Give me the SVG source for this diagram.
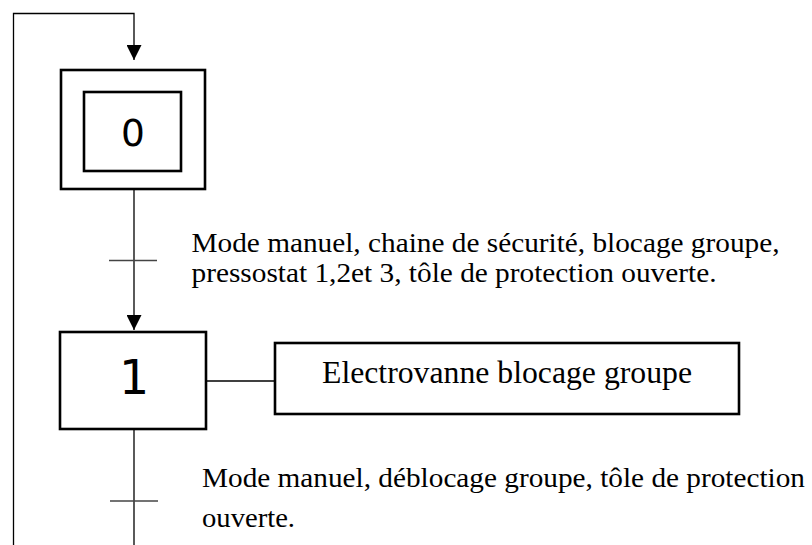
<svg xmlns="http://www.w3.org/2000/svg" width="812" height="545" viewBox="0 0 812 545">
  <style>
    .step { fill: #fff; stroke: #000; stroke-width: 2.6; }
    .link { fill: none; stroke: #000; stroke-width: 1.3; }
    .bar { fill: none; stroke: #444; stroke-width: 1.5; }
    .num { font-family: "DejaVu Sans", sans-serif; fill: #000; text-anchor: middle; }
    .cond { font-family: "Liberation Serif", "Times New Roman", serif; fill: #000; }
  </style>
  <defs>
    <marker id="arrow" viewBox="0 0 15 15" refX="15" refY="7.5" markerWidth="15" markerHeight="15" markerUnits="userSpaceOnUse" orient="auto">
      <path d="M0,0 L15,7.5 L0,15 Z" fill="#000"/>
    </marker>
  </defs>

  <!-- connectors -->
  <g id="connectors">
    <!-- return loop from the bottom back to the initial step -->
    <path class="link" d="M13.5,545 V13.5 H134 V60" marker-end="url(#arrow)"/>
    <!-- step 0 to step 1 -->
    <path class="link" d="M134,189 V330" marker-end="url(#arrow)"/>
    <!-- step 1 downward -->
    <path class="link" d="M134,429 V545"/>
    <!-- step 1 to its action -->
    <path class="link" d="M206,381 H275"/>
    <!-- transition bars -->
    <path class="bar" d="M109,260.5 H157"/>
    <path class="bar" d="M110,501 H158"/>
  </g>

  <!-- initial step 0 -->
  <g id="step0">
    <rect class="step" x="61" y="70" width="144" height="119"/>
    <rect class="step" x="84" y="92" width="97" height="79"/>
    <text class="num" x="133" y="145.5" font-size="37.5">0</text>
  </g>

  <!-- step 1 -->
  <g id="step1">
    <rect class="step" x="60" y="332" width="146" height="97"/>
    <text class="num" x="134" y="394" font-size="47.5">1</text>
  </g>

  <!-- action of step 1 -->
  <g id="action1">
    <rect class="step" x="275" y="343" width="464" height="71"/>
    <text class="cond" x="322" y="382.5" font-size="31" textLength="370" lengthAdjust="spacingAndGlyphs">Electrovanne blocage groupe</text>
  </g>

  <!-- transition 0 -> 1 receptivity -->
  <g id="trans1">
    <text class="cond" x="191.5" y="251.5" font-size="27" textLength="588" lengthAdjust="spacingAndGlyphs">Mode manuel, chaine de sécurité, blocage groupe,</text>
    <text class="cond" x="191.5" y="282" font-size="27" textLength="525" lengthAdjust="spacingAndGlyphs">pressostat 1,2et 3, tôle de protection ouverte.</text>
  </g>

  <!-- transition 1 -> 0 receptivity -->
  <g id="trans2">
    <text class="cond" x="202" y="487" font-size="28" textLength="603" lengthAdjust="spacingAndGlyphs">Mode manuel, déblocage groupe, tôle de protection</text>
    <text class="cond" x="202" y="527" font-size="28" textLength="93" lengthAdjust="spacingAndGlyphs">ouverte.</text>
  </g>
</svg>
